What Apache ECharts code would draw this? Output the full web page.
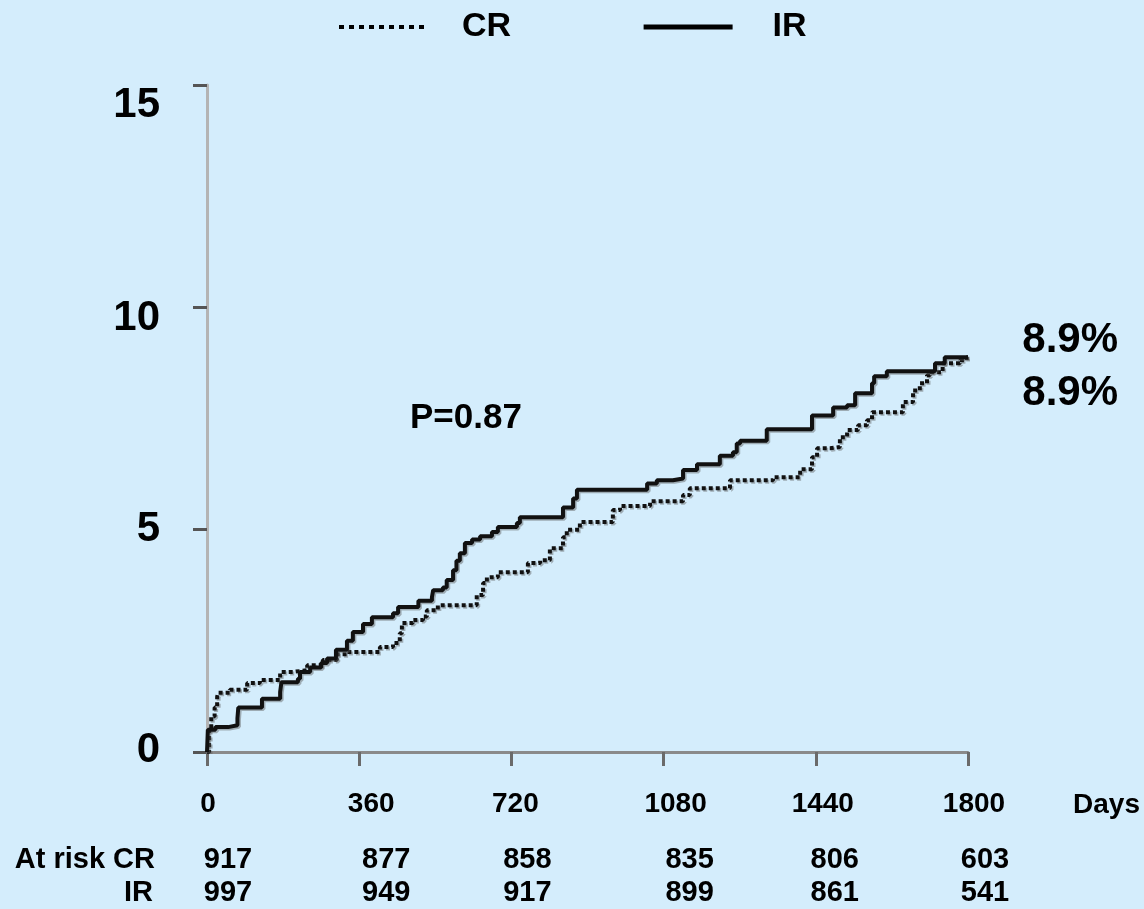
<!DOCTYPE html>
<html>
<head>
<meta charset="utf-8">
<style>
html,body{margin:0;padding:0;background:#d4edfc;}
#c{width:1144px;height:909px;}
</style>
<script src="https://cdn.jsdelivr.net/npm/echarts@6/dist/echarts.min.js"></script>
</head>
<body>
<div id="c"></div>
<script>
// Tick labels / categories
const xTicks = [0, 360, 720, 1080, 1440, 1800];
const yTicks = [0, 5, 10, 15];
// Number at risk
const atRiskCR = [917, 877, 858, 835, 806, 603];
const atRiskIR = [997, 949, 917, 899, 861, 541];
// Cumulative incidence (%) – [day, value], jump to value at that day
const seriesCR = [
  [0,0],[5,0.5],[10,0.8],[18,1.0],[24,1.24],[26,1.33],[54,1.4],[95,1.55],[125,1.62],
  [173,1.8],[203,1.84],[237,1.95],[274,2.07],[307,2.2],[331,2.25],[409,2.36],[440,2.45],
  [456,2.67],[461,2.9],[487,2.97],[511,3.05],[520,3.19],[546,3.3],[638,3.53],[653,3.8],
  [662,3.93],[688,4.04],[759,4.25],[788,4.31],[811,4.58],[842,4.83],[851,5.0],[882,5.17],
  [960,5.44],[977,5.53],[1048,5.64],[1126,5.78],[1142,5.93],[1237,6.11],[1339,6.18],
  [1403,6.36],[1431,6.63],[1443,6.83],[1474,6.86],[1497,7.08],[1514,7.24],[1540,7.35],
  [1561,7.46],[1573,7.64],[1646,7.87],[1670,8.13],[1686,8.29],[1703,8.47],[1710,8.54],
  [1740,8.74],[1781,8.81],[1797,8.88],[1800,8.88]
];
const seriesIR = [
  [0,0],[2,0.5],[20,0.56],[50,0.6],[72,0.76],[74,1.0],[130,1.2],[173,1.35],[176,1.57],
  [215,1.65],[220,1.8],[244,1.9],[270,2.0],[284,2.1],[305,2.3],[331,2.5],[345,2.7],
  [369,2.88],[390,3.03],[440,3.12],[452,3.26],[500,3.4],[532,3.48],[535,3.64],[558,3.7],
  [567,3.87],[582,4.09],[590,4.3],[598,4.47],[610,4.7],[627,4.78],[646,4.85],[674,4.95],
  [688,5.06],[733,5.15],[740,5.28],[842,5.5],[866,5.7],[875,5.9],[1041,6.04],[1064,6.11],
  [1102,6.15],[1126,6.34],[1159,6.47],[1213,6.66],[1244,6.74],[1253,6.94],[1261,7.0],
  [1324,7.26],[1431,7.57],[1481,7.75],[1514,7.8],[1533,8.07],[1573,8.29],[1578,8.45],
  [1608,8.56],[1722,8.74],[1745,8.88],[1800,8.88]
];
const finalCR = '8.9%';
const finalIR = '8.9%';
const pText = 'P=0.87';

const FONT = '"Liberation Sans", Arial, sans-serif';
const chart = echarts.init(document.getElementById('c'));
const shadow = {shadowColor:'rgba(90,90,90,0.45)', shadowBlur:0, shadowOffsetX:1.5, shadowOffsetY:1.5};
const yFont = {fontSize:42, fontWeight:'bold', color:'#000', fontFamily:FONT};
const xFont = {fontSize:28, fontWeight:'bold', color:'#000', fontFamily:FONT};
const legText = {fontSize:34, fontWeight:'bold', color:'#000', fontFamily:FONT};
chart.setOption({
  backgroundColor:'#d4edfc',
  animation:false,
  textStyle:{fontFamily:FONT},
  legend:{
    left:332, top:5, itemWidth:89, itemHeight:24, itemGap:130,
    itemStyle:{opacity:0},
    textStyle:Object.assign({padding:[0,0,0,34]}, legText),
    data:[
      {name:'CR', itemStyle:{opacity:0}, textStyle:Object.assign({padding:[0,0,0,29]}, legText),
        lineStyle:{width:4, type:[5,5], color:'#000'}},
      {name:'IR', itemStyle:{opacity:0}, textStyle:Object.assign({padding:[0,0,0,35]}, legText),
        lineStyle:{width:5, type:'solid', color:'#000'}}
    ]
  },
  grid:{left:207, right:176, top:85, bottom:157, containLabel:false},
  xAxis:{
    type:'value', min:0, max:1800, interval:360,
    axisLine:{show:true, onZero:false, lineStyle:{color:'#8a8a8a', width:3}},
    axisTick:{show:true, length:14, lineStyle:{color:'#6a6a6a', width:3}},
    axisLabel:Object.assign({margin:38,
      formatter:function(v){return '{x'+v+'|'+v+'}';},
      rich:{
        x0:Object.assign({padding:[0,0,0,2]}, xFont),
        x360:Object.assign({padding:[0,0,0,24]}, xFont),
        x720:Object.assign({padding:[0,0,0,8]}, xFont),
        x1080:Object.assign({padding:[0,0,0,24]}, xFont),
        x1440:Object.assign({padding:[0,0,0,14]}, xFont),
        x1800:Object.assign({padding:[0,0,0,12]}, xFont)
      }}, xFont),
    splitLine:{show:false}
  },
  yAxis:{
    type:'value', min:0, max:15, interval:5,
    axisLine:{show:true, lineStyle:{color:'#b4b4b4', width:3}},
    axisTick:{show:true, length:14, lineStyle:{color:'#555', width:3}},
    axisLabel:Object.assign({margin:47,
      formatter:function(v){return '{y'+v+'|'+v+'}';},
      rich:{
        y0:Object.assign({padding:[0,0,4,0]}, yFont),
        y5:Object.assign({padding:[0,0,0,0]}, yFont),
        y10:Object.assign({padding:[22,0,0,0]}, yFont),
        y15:Object.assign({padding:[40,0,0,0]}, yFont)
      }}, yFont),
    splitLine:{show:false}
  },
  series:[
    {name:'CR', type:'line', step:'end', symbol:'none', data:seriesCR, z:3,
      lineStyle:Object.assign({color:'#111', width:4, type:[4,3]}, shadow)},
    {name:'IR', type:'line', step:'end', symbol:'none', data:seriesIR, z:4,
      lineStyle:Object.assign({color:'#111', width:4, type:'solid'}, shadow)}
  ]
});

function px(day){ return chart.convertToPixel({xAxisIndex:0}, day); }
const colShift = [21, 27, 16, 26, 19, 17];
const g = [];
const txt = (x,y,text,size,align) => ({type:'text', x:x, y:y,
  style:{text:text, fontSize:size, fontWeight:'bold', fill:'#000', fontFamily:FONT,
  textAlign:align||'center', textVerticalAlign:'middle'}});
g.push(txt(410, 418, pText, 35, 'left'));
g.push(txt(1118, 340, finalCR, 42, 'right'));
g.push(txt(1118, 393, finalIR, 42, 'right'));
g.push(txt(1140, 805, 'Days', 28, 'right'));
g.push(txt(155, 860, 'At risk CR', 29, 'right'));
g.push(txt(153, 893, 'IR', 29, 'right'));
xTicks.forEach((d,i)=>{
  g.push(txt(px(d)+colShift[i], 860, String(atRiskCR[i]), 29, 'center'));
  g.push(txt(px(d)+colShift[i], 893, String(atRiskIR[i]), 29, 'center'));
});
chart.setOption({graphic:g});
</script>
</body>
</html>
